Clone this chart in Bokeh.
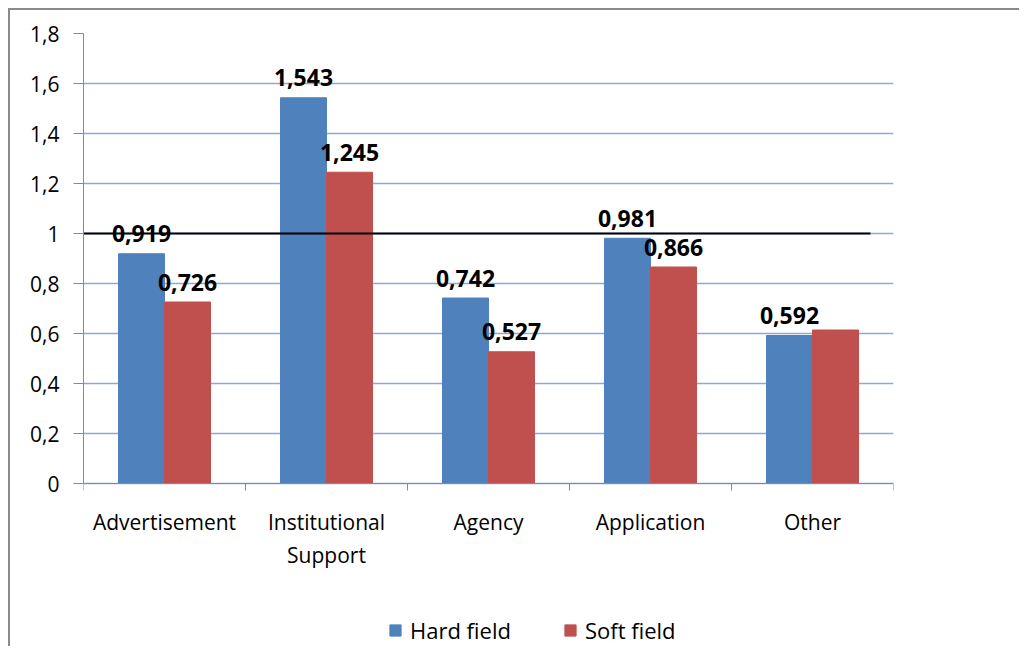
from bokeh.plotting import figure
from bokeh.models import Range1d, FixedTicker, Legend, LegendItem
from bokeh.core.properties import value
from bokeh.embed import file_html
from bokeh.resources import INLINE
import numpy as np

categories = ["Advertisement", "Institutional\nSupport", "Agency", "Application", "Other"]
hard_values = [0.919, 1.543, 0.742, 0.981, 0.592]
soft_values = [0.726, 1.245, 0.527, 0.866, 0.614]
hard_labels = ["0,919", "1,543", "0,742", "0,981", "0,592"]
soft_labels = ["0,726", "1,245", "0,527", "0,866", ""]
y_ticks = [0, 0.2, 0.4, 0.6, 0.8, 1.0, 1.2, 1.4, 1.6, 1.8]
y_tick_labels = ["0", "0,2", "0,4", "0,6", "0,8", "1", "1,2", "1,4", "1,6", "1,8"]
reference_value = 1.0

FONT = "Open Sans"
BLUE = "#4F81BD"
RED = "#C0504D"

n = len(categories)
centers = np.arange(n) + 0.5
bw = 0.284

# frame runs to the bottom of the canvas so the legend below the axis is not clipped
p = figure(width=1011, height=638, output_backend="svg", toolbar_location=None,
           x_range=Range1d(0, n), y_range=Range1d(-0.66, 1.8),
           min_border_left=73, min_border_top=23, min_border_bottom=0, min_border_right=128)
p.styles = {"border-left": "2px solid #8a8a8a", "border-top": "2px solid #8a8a8a",
            "margin-left": "8px", "margin-top": "8px"}
p.outline_line_color = None
p.background_fill_color = "white"
p.border_fill_color = "white"

# grid
p.xgrid.visible = False
p.ygrid.ticker = FixedTicker(ticks=y_ticks)
p.ygrid.grid_line_color = "#8EA8D6"
p.ygrid.grid_line_width = 1.5

# y axis
p.yaxis.ticker = FixedTicker(ticks=y_ticks)
p.yaxis.bounds = (0, 1.8)
p.yaxis.major_label_overrides = {t: l for t, l in zip(y_ticks, y_tick_labels)}
p.yaxis.axis_line_color = "#8a8a8a"
p.yaxis.major_tick_line_color = "#8a8a8a"
p.yaxis.major_tick_out = 10
p.yaxis.major_tick_in = 0
p.yaxis.minor_tick_line_color = None
p.yaxis.major_label_standoff = 14
p.yaxis.major_label_text_font = FONT
p.yaxis.major_label_text_font_size = "21px"
p.yaxis.major_label_text_color = "black"

# x axis (pinned at y=0 inside the frame)
p.xaxis.fixed_location = 0
p.xaxis.ticker = FixedTicker(ticks=list(centers), minor_ticks=list(range(n + 1)))
p.xaxis.major_label_overrides = {float(c): lab for c, lab in zip(centers, categories)}
p.xaxis.axis_line_color = "#8a8a8a"
p.xaxis.major_tick_line_color = None
p.xaxis.major_tick_out = 0
p.xaxis.minor_tick_line_color = "#8a8a8a"
p.xaxis.minor_tick_out = 7
p.xaxis.minor_tick_in = 0
p.xaxis.major_label_standoff = 17
p.xaxis.major_label_text_font = FONT
p.xaxis.major_label_text_font_size = "21px"
p.xaxis.major_label_text_color = "black"

r_hard = p.vbar(x=centers - bw / 2, top=hard_values, width=bw, fill_color=BLUE, line_color=BLUE)
r_soft = p.vbar(x=centers + bw / 2, top=soft_values, width=bw, fill_color=RED, line_color=RED)

p.segment(x0=[0], y0=[reference_value], x1=[4.858], y1=[reference_value], line_color="black", line_width=2)

p.text(x=centers - bw / 2, y=hard_values, text=hard_labels, text_align="center",
       text_baseline="alphabetic", y_offset=-20, text_font=value(FONT), text_font_style="bold",
       text_font_size="23px", text_color="black")
p.text(x=centers + bw / 2, y=soft_values, text=soft_labels, text_align="center",
       text_baseline="alphabetic", y_offset=-20, text_font=value(FONT), text_font_style="bold",
       text_font_size="23px", text_color="black")

legend = Legend(items=[LegendItem(label="Hard field", renderers=[r_hard]),
                       LegendItem(label="Soft field", renderers=[r_soft])],
                location=(305, 3), orientation="horizontal",
                glyph_width=14, glyph_height=14, label_standoff=8, spacing=52,
                padding=0, margin=0, border_line_color=None, background_fill_alpha=0,
                label_text_font=FONT, label_text_font_size="22px", label_text_color="black")
p.add_layout(legend, "center")

open("out.html", "w").write(file_html(p, INLINE))
